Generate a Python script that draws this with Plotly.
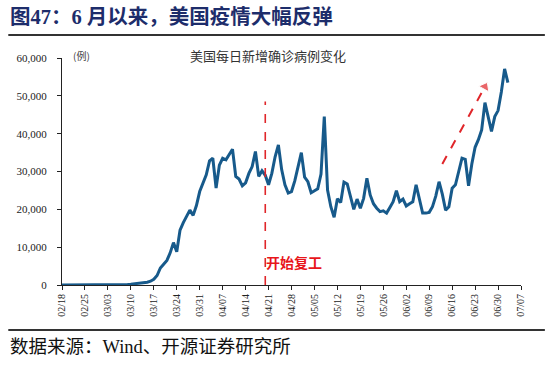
import pandas as pd
import plotly.graph_objects as go

# ---- data ----
start_date = "2020-02-18"
daily_cases = [
    # 02/18 - 02/29
    0, 0, 0, 0, 5, 5, 5, 10, 10, 10, 10, 15,
    # 03/01 - 03/15
    20, 25, 30, 40, 50, 60, 80, 100, 150, 200, 300, 400, 500, 600, 750,
    # 03/16 - 03/31
    1000, 1500, 2500, 4500, 5500, 6500, 8500, 11200, 8800, 14500, 16500, 18300, 19800, 18400, 21000, 24700,
    # 04/01 - 04/30
    26900, 29100, 32800, 33500, 25600, 31700, 33500, 33100, 34500, 35900,
    28700, 28000, 26200, 27000, 29500, 31300, 35300, 28700, 30200, 29000,
    26500, 29500, 33900, 37000, 30500, 26500, 24300, 24700, 27500, 31000,
    # 05/01 - 05/31
    35000, 28500, 27300, 24400, 24800, 25400, 29300, 44500, 25100, 20700,
    17900, 22800, 21800, 27200, 26700, 23500, 20000, 22700, 20300, 22900,
    28200, 23800, 21500, 20300, 19400, 19600, 19000, 20500, 22000, 24900, 22000,
    # 06/01 - 06/30
    22700, 20900, 21500, 22000, 26500, 22900, 19000, 19000, 19200, 20700,
    23500, 27300, 24000, 19800, 20700, 25600, 26500, 30000, 33500, 33200,
    26200, 32000, 36400, 38400, 41000, 48200, 44000, 40600, 44500, 46100,
    # 07/01 - 07/03
    51000, 57100, 53500,
]
dates = pd.date_range(start_date, periods=len(daily_cases), freq="D")

tick_dates = pd.date_range("2020-02-18", "2020-07-07", freq="7D")
tick_labels = [d.strftime("%m/%d") for d in tick_dates]

y_ticks = [0, 10000, 20000, 30000, 40000, 50000, 60000]

restart_date = "2020-04-20"
arrow_start = ("2020-06-13", 32000)
arrow_end = ("2020-06-26", 52400)

# ---- figure ----
serif = "Liberation Serif, Noto Sans CJK SC, serif"
cjk = "Noto Sans CJK SC, sans-serif"

fig = go.Figure()
fig.add_trace(go.Scatter(
    x=dates, y=daily_cases, mode="lines",
    line=dict(color="#175a8b", width=3),
    hoverinfo="skip", showlegend=False,
))

# red dashed arrow
fig.add_trace(go.Scatter(
    x=[arrow_start[0], arrow_end[0]], y=[arrow_start[1], arrow_end[1]],
    mode="lines+markers",
    line=dict(color="#e0262a", width=2, dash="dash"),
    marker=dict(symbol=["circle", "triangle-up"], size=[0, 10],
                color="#e0262a", angleref="previous"),
    hoverinfo="skip", showlegend=False,
))

fig.add_shape(type="line", xref="x", yref="y",
              x0=restart_date, x1=restart_date, y0=0, y1=48500,
              line=dict(color="#e0262a", width=1.6, dash="dash"))

fig.add_annotation(x=restart_date, y=6100, xref="x", yref="y",
                   text="<b>开始复工</b>", showarrow=False, xanchor="left",
                   xshift=-1, font=dict(family=cjk, size=14, color="#e8161b"))

# header / footer
fig.add_annotation(x=-0.117, y=1.182, xref="paper", yref="paper",
                   text="<b>图47：6 月以来，美国疫情大幅反弹</b>", showarrow=False,
                   xanchor="left", yanchor="middle",
                   font=dict(family=serif, size=20.5, color="#1d2d6b"))
fig.add_shape(type="line", xref="paper", yref="paper",
              x0=-0.117, x1=1.052, y0=1.101, y1=1.101,
              line=dict(color="#333333", width=2))
fig.add_shape(type="line", xref="paper", yref="paper",
              x0=-0.117, x1=1.052, y0=-0.198, y1=-0.198,
              line=dict(color="#333333", width=2))
fig.add_annotation(x=-0.117, y=-0.273, xref="paper", yref="paper",
                   text="数据来源：Wind、开源证券研究所", showarrow=False,
                   xanchor="left", yanchor="middle",
                   font=dict(family=serif, size=18.5, color="#111111"))

fig.add_annotation(x=0.449, y=1.01, xref="paper", yref="paper",
                   text="美国每日新增确诊病例变化", showarrow=False,
                   xanchor="center", yanchor="middle",
                   font=dict(family=cjk, size=13, color="#333333"))
fig.add_annotation(x=0.02, y=1.01, xref="paper", yref="paper",
                   text="(例)", showarrow=False,
                   xanchor="left", yanchor="middle",
                   font=dict(family=cjk, size=10, color="#444444"))

fig.update_layout(
    width=550, height=367,
    margin=dict(l=62, r=29, t=58, b=82),
    paper_bgcolor="white", plot_bgcolor="white",
    xaxis=dict(
        range=["2020-02-18", "2020-07-07"],
        tickvals=tick_dates, ticktext=tick_labels, tickangle=-90,
        showline=True, linecolor="#222222", linewidth=1,
        ticks="outside", ticklen=4, tickcolor="#222222",
        showgrid=False, zeroline=False,
        tickfont=dict(family=serif, size=10, color="#222222"),
    ),
    yaxis=dict(
        range=[0, 60000], tickvals=y_ticks, tickformat=",",
        showline=True, linecolor="#222222", linewidth=1,
        ticks="outside", ticklen=4, tickcolor="#222222",
        ticklabelstandoff=8,
        showgrid=False, zeroline=False,
        tickfont=dict(family=serif, size=11, color="#222222"),
    ),
)

fig.write_html("out.html",
               config={"displayModeBar": False},
               post_script="document.body.style.margin='0';document.body.style.overflow='hidden';")
